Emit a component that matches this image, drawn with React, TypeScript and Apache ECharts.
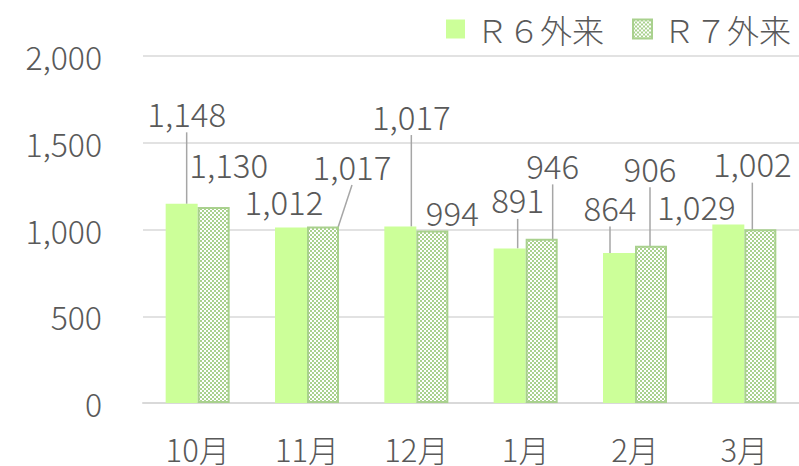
import React, { useEffect, useRef } from "react";
import * as echarts from "echarts";

const CATEGORIES = ["10月", "11月", "12月", "1月", "2月", "3月"];
const SERIES_NAMES = ["Ｒ６外来", "Ｒ７外来"];
const R6_VALUES = [1148, 1012, 1017, 891, 864, 1029];
const R7_VALUES = [1130, 1017, 994, 946, 906, 1002];
const Y_MIN = 0;
const Y_MAX = 2000;
const Y_INTERVAL = 500;

// label centre offsets relative to the bar's top centre
const R6_LABEL_OFFSETS: [number, number][] = [
  [5, -91], [-7, -26], [11, -111], [8, -49], [-9, -46], [-32, -18],
];
const R7_LABEL_OFFSETS: [number, number][] = [
  [15, -43], [29, -61], [20, -19], [11, -74], [-1, -78], [-8, -66],
];
const R6_LINES = [true, false, true, true, true, false];
const R7_LINES = [false, true, false, true, true, true];

const TEXT = "#595959";
const FONT = "'Noto Sans CJK JP', 'Noto Sans', sans-serif";

function fmt(v: number) {
  return v.toLocaleString("en-US");
}

function makePattern() {
  const c = document.createElement("canvas");
  c.width = 4;
  c.height = 4;
  const ctx = c.getContext("2d")!;
  ctx.fillStyle = "#ffffff";
  ctx.fillRect(0, 0, 4, 4);
  ctx.fillStyle = "#a9d18e";
  ctx.fillRect(0, 0, 2, 2);
  ctx.fillRect(2, 2, 2, 2);
  return { image: c, repeat: "repeat", imageWidth: 4, imageHeight: 4 } as any;
}

export default function App() {
  const ref = useRef<HTMLDivElement>(null);
  useEffect(() => {
    if (!ref.current) return;
    const chart = echarts.init(ref.current, undefined, { renderer: "svg" });
    const layoutFor = (offsets: [number, number][]) => (params: any) => {
      const r = params.rect;
      const top = Math.min(r.y, r.y + r.height);
      const [dx, dy] = offsets[params.dataIndex];
      return {
        x: r.x + r.width / 2 + dx,
        y: top + dy,
        align: "center",
        verticalAlign: "middle",
      };
    };
    const labelCommon = {
      show: true,
      position: "top",
      color: TEXT,
      fontSize: 33,
      fontWeight: 300,
      lineHeight: 27,
      fontFamily: FONT,
      padding: [6, 0, 6, 0],
      formatter: (p: any) => fmt(p.value),
    };
    const lineCommon = {
      show: true,
      lineStyle: { color: "#a6a6a6", width: 1.5 },
    };
    chart.setOption({
      animation: false,
      textStyle: { fontFamily: FONT },
      legend: {
        top: 8,
        right: 3,
        itemWidth: 19,
        itemHeight: 19,
        itemGap: 28,
        icon: "rect",
        textStyle: { color: TEXT, fontSize: 32, fontWeight: 300, fontFamily: FONT, padding: [0, 0, 0, 6] },
        data: SERIES_NAMES,
      },
      grid: { left: 143, right: 0, top: 56, bottom: 63, containLabel: false },
      xAxis: {
        type: "category",
        data: CATEGORIES,
        axisTick: { show: false },
        axisLine: { lineStyle: { color: "#d9d9d9", width: 2 } },
        axisLabel: { color: TEXT, fontSize: 31, fontWeight: 300, lineHeight: 28, fontFamily: FONT, margin: 31 },
      },
      yAxis: {
        type: "value",
        min: Y_MIN,
        max: Y_MAX,
        interval: Y_INTERVAL,
        axisLine: { show: false },
        axisTick: { show: false },
        splitLine: { lineStyle: { color: "#d9d9d9", width: 1.5 } },
        axisLabel: {
          color: TEXT,
          fontSize: 32,
          fontWeight: 300,
          fontFamily: FONT,
          margin: 41,
          formatter: (v: number) => fmt(v),
        },
      },
      series: [
        {
          name: SERIES_NAMES[0],
          type: "bar",
          barWidth: 32,
          barGap: "0%",
          itemStyle: { color: "#ccff99" },
          label: labelCommon,
          labelLine: lineCommon,
          labelLayout: layoutFor(R6_LABEL_OFFSETS),
          data: R6_VALUES.map((v, i) => ({ value: v, labelLine: { show: R6_LINES[i] } })),
        },
        {
          name: SERIES_NAMES[1],
          type: "bar",
          barWidth: 32,
          barGap: "0%",
          itemStyle: { color: makePattern(), borderColor: "#a9d18e", borderWidth: 2 },
          label: labelCommon,
          labelLine: lineCommon,
          labelLayout: layoutFor(R7_LABEL_OFFSETS),
          data: R7_VALUES.map((v, i) => ({ value: v, labelLine: { show: R7_LINES[i] } })),
        },
      ],
    });
    return () => chart.dispose();
  }, []);
  return <div ref={ref} style={{ width: 799, height: 466, position: "absolute", left: 0, top: 0 }} />;
}
